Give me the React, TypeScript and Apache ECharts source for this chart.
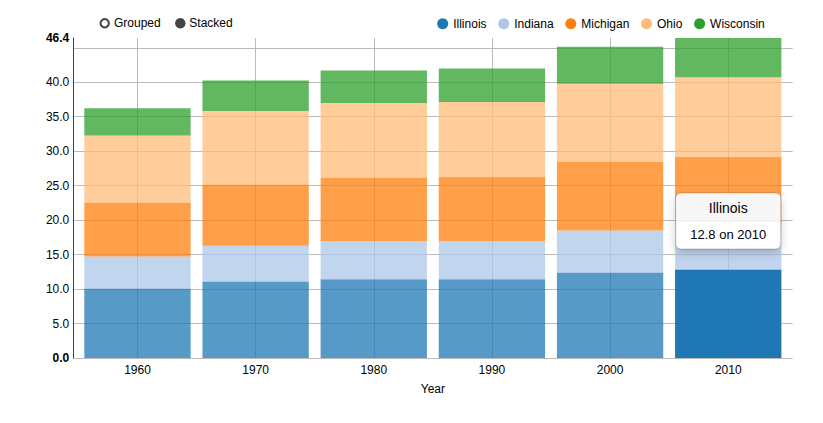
import React, { useEffect, useRef } from 'react';
import * as echarts from 'echarts';

const years = ['1960', '1970', '1980', '1990', '2000', '2010'];
const illinois = [10.08, 11.11, 11.43, 11.43, 12.42, 12.83];
const indiana = [4.66, 5.19, 5.49, 5.54, 6.08, 6.48];
const michigan = [7.82, 8.88, 9.26, 9.3, 9.94, 9.88];
const ohio = [9.71, 10.65, 10.8, 10.85, 11.35, 11.54];
const wisconsin = [3.95, 4.42, 4.71, 4.89, 5.36, 5.69];

const seriesNames = ['Illinois', 'Indiana', 'Michigan', 'Ohio', 'Wisconsin'];
const seriesValues = [illinois, indiana, michigan, ohio, wisconsin];
const seriesColors = ['#1f77b4', '#aec7e8', '#ff7f0e', '#ffbb78', '#2ca02c'];

const hoverSeries = 0;
const hoverYear = '2010';

const FONT = "'Liberation Sans', Arial, sans-serif";

export default function App() {
  const ref = useRef<HTMLDivElement>(null);
  useEffect(() => {
    document.body.style.margin = '0';
    if (!ref.current) return;
    const chart = echarts.init(ref.current, null, { renderer: 'svg' });
    const totals = years.map((_, i) => seriesValues.reduce((s, a) => s + a[i], 0));
    const maxTotal = Math.max(...totals);
    const hoverIdx = years.indexOf(hoverYear);

    const option: any = {
      animation: false,
      textStyle: { fontFamily: FONT },
      grid: [
        { left: 73.3, right: 30.3, top: 38, height: 320 },
        { left: 78.4, width: 708.9, top: 38, height: 320 },
      ],
      xAxis: [
        { gridIndex: 0, type: 'value', show: false, min: 0, max: 1 },
        {
          gridIndex: 1,
          type: 'category',
          data: years,
          name: 'Year',
          nameLocation: 'middle',
          nameGap: 25,
          nameTextStyle: { color: '#000', fontSize: 12, fontFamily: FONT },
          axisLine: { show: false },
          axisTick: { show: false },
          axisLabel: { color: '#000', fontSize: 12, margin: 6, fontFamily: FONT },
          splitLine: { show: true, alignWithLabel: true, lineStyle: { color: '#bbb', width: 1 } },
        },
      ],
      yAxis: [
        {
          gridIndex: 0,
          type: 'value',
          min: 0,
          max: maxTotal,
          interval: 5,
          axisLine: { show: true, lineStyle: { color: '#404040', width: 1 } },
          axisTick: { show: false },
          axisLabel: {
            color: '#000',
            fontSize: 12,
            margin: 4,
            fontFamily: FONT,
            showMaxLabel: true,
            formatter: (v: number) => {
              if (Math.abs(v - maxTotal) < 1e-6) return '{b|' + v.toFixed(1) + '}';
              if (v === 0) return '{b|0.0}';
              if (maxTotal - v < 2.5) return '';
              return v.toFixed(1);
            },
            rich: { b: { fontWeight: 'bold', fontSize: 12, color: '#000', fontFamily: FONT } },
          },
          splitLine: {
            show: true,
            showMinLine: true,
            showMaxLine: false,
            lineStyle: { color: '#bbb', width: 1 },
          },
        },
        { gridIndex: 1, type: 'value', min: 0, max: maxTotal, show: false },
      ],
      legend: {
        data: seriesNames,
        icon: 'circle',
        itemWidth: 11,
        itemHeight: 11,
        itemGap: 11.7,
        left: 437.2,
        top: 17.8,
        padding: 0,
        itemStyle: { opacity: 1 },
        textStyle: { color: '#000', fontSize: 12, fontFamily: FONT },
      },
      series: seriesNames.map((name, s) => ({
        name,
        type: 'bar',
        stack: 'total',
        xAxisIndex: 1,
        yAxisIndex: 1,
        barCategoryGap: '10%',
        itemStyle: { color: seriesColors[s], opacity: 0.75 },
        emphasis: { disabled: true },
        data: seriesValues[s].map((v, i) =>
          s === hoverSeries && i === hoverIdx ? { value: v, itemStyle: { opacity: 1 } } : v
        ),
      })),
    };
    chart.setOption(option);

    const hv = seriesValues[hoverSeries][hoverIdx];
    const [cx, cy] = chart.convertToPixel({ gridIndex: 1 } as any, [hoverIdx, hv]) as number[];
    const w = 105;
    const h = 56;
    const bx = cx - w / 2;
    const by = cy - 20.5 - h;
    const TZ = 100;

    chart.setOption({
      graphic: [
        {
          type: 'circle',
          shape: { cx: 104.7, cy: 23.3, r: 4.2 },
          style: { fill: '#fff', stroke: '#444', lineWidth: 2 },
        },
        {
          type: 'text',
          x: 114,
          y: 23.3,
          style: { text: 'Grouped', fill: '#000', fontSize: 12, fontFamily: FONT, verticalAlign: 'middle' },
        },
        {
          type: 'circle',
          shape: { cx: 180.3, cy: 23.3, r: 5.2 },
          style: { fill: '#444' },
        },
        {
          type: 'text',
          x: 189.3,
          y: 23.3,
          style: { text: 'Stacked', fill: '#000', fontSize: 12, fontFamily: FONT, verticalAlign: 'middle' },
        },
        {
          type: 'rect',
          z: TZ,
          shape: { x: bx, y: by, width: w, height: h, r: 5 },
          style: {
            fill: '#fff',
            stroke: 'rgba(0,0,0,0.2)',
            lineWidth: 1,
            shadowBlur: 10,
            shadowColor: 'rgba(0,0,0,0.2)',
            shadowOffsetY: 4,
          },
        },
        {
          type: 'rect',
          z: TZ + 1,
          shape: { x: bx + 1, y: by + 1, width: w - 2, height: 27, r: [4, 4, 0, 0] },
          style: { fill: '#f7f7f7' },
        },
        {
          type: 'line',
          z: TZ + 2,
          shape: { x1: bx + 1, y1: by + 28, x2: bx + w - 1, y2: by + 28 },
          style: { stroke: '#ebebeb', lineWidth: 1 },
        },
        {
          type: 'text',
          z: TZ + 3,
          x: cx,
          y: by + 15,
          style: {
            text: seriesNames[hoverSeries],
            fill: '#000',
            fontSize: 14,
            fontFamily: FONT,
            align: 'center',
            verticalAlign: 'middle',
          },
        },
        {
          type: 'text',
          z: TZ + 3,
          x: cx,
          y: by + 41,
          style: {
            text: hv.toFixed(1) + ' on ' + hoverYear,
            fill: '#000',
            fontSize: 13,
            fontFamily: FONT,
            align: 'center',
            verticalAlign: 'middle',
          },
        },
      ],
    });

    return () => chart.dispose();
  }, []);
  return <div ref={ref} style={{ width: 823, height: 423 }} />;
}
